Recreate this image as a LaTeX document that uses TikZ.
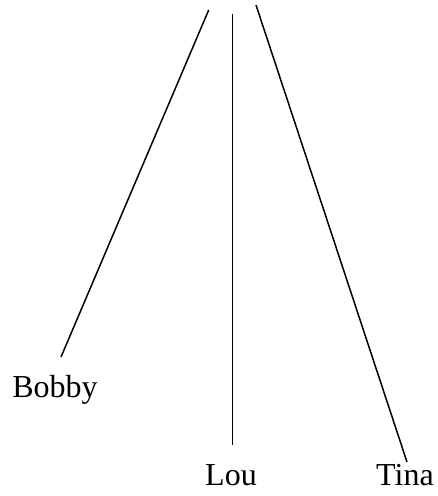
\documentclass[tikz,border=0pt]{standalone}
\usepackage{fontspec}
\setmainfont{Liberation Serif}
\usetikzlibrary{positioning}

\begin{document}
\begin{tikzpicture}[
    x=1pt, y=-1pt,
    branch/.style={line width=1.5pt, line cap=butt},
    person/.style={anchor=base, inner sep=0pt, font=\fontsize{32}{38}\selectfont},
]

\def\W{438}    % picture width
\def\H{496}    % picture height
\useasboundingbox (0,0) rectangle (\W,\H);

% top ends of the three branches
\coordinate (bobbytop) at (208.7,10);
\coordinate (loutop)   at (232.7,14);
\coordinate (tinatop)  at (256,5);

% lower ends, just above the names
\coordinate (bobbyend) at (61,357);
\coordinate (louend)   at (232.7,445);
\coordinate (tinaend)  at (407,462);

% names
\node[person] (bobby) at (55,397)  {Bobby};
\node[person] (lou)   at (231,485) {Lou};
\node[person] (tina)  at (405,485) {Tina};

% branches
\draw[branch] (bobbytop) -- (bobbyend);
\draw[branch] (loutop) -- (louend);
\draw[branch] (tinatop) -- (tinaend);

\end{tikzpicture}
\end{document}
